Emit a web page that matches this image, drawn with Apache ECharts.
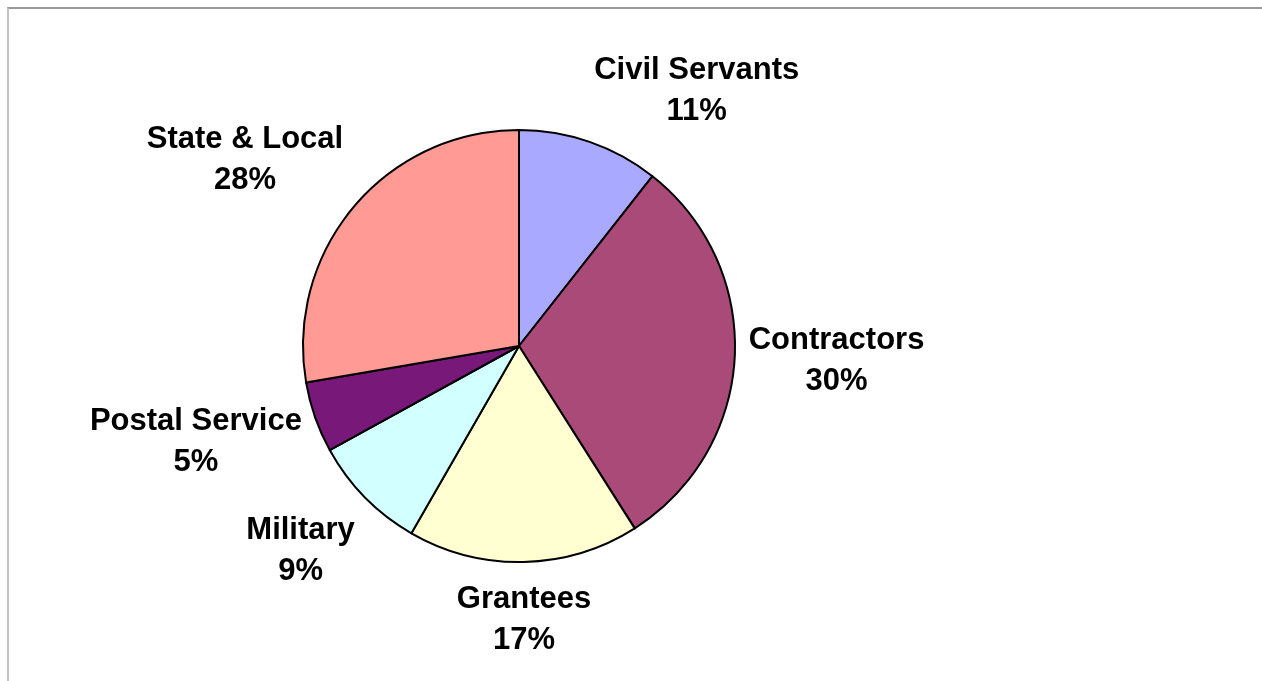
<!DOCTYPE html>
<html>
<head>
<meta charset="utf-8">
<script src="https://cdn.jsdelivr.net/npm/echarts@6/dist/echarts.min.js"></script>
<style>
html,body{margin:0;padding:0;background:#fff;width:1262px;height:681px;overflow:hidden;}
#frame{position:absolute;left:7px;top:7px;width:1255px;height:674px;border-top:2px solid #999;border-left:2px solid #c4c4c4;box-sizing:border-box;}
#chart{position:absolute;left:0;top:0;width:1262px;height:681px;}
</style>
</head>
<body>
<div id="frame"></div>
<div id="chart"></div>
<script>
// Data (clockwise from 12 o'clock)
const categories = ['Civil Servants', 'Contractors', 'Grantees', 'Military', 'Postal Service', 'State & Local'];
const shares = [10.6, 30.4, 17.3, 8.7, 5.3, 27.7];
const sliceColors = ['#A9A9FF', '#A94A78', '#FFFFD2', '#D2FFFF', '#781878', '#FF9A94'];

const CENTER = [519, 346];
const RADIUS = 216;
const LABEL_GAP = 14;
const TEXT_BASELINE_NUDGE = 3;

const total = shares.reduce((a, b) => a + b, 0);
const midAngles = [];
{
  let acc = 0;
  shares.forEach(v => { midAngles.push((acc + v / 2) / total * 2 * Math.PI); acc += v; });
}
const clamp01 = v => Math.max(0, Math.min(1, v));

const chart = echarts.init(document.getElementById('chart'), null, {renderer: 'canvas'});
chart.setOption({
  backgroundColor: 'transparent',
  animation: false,
  series: [{
    type: 'pie',
    center: CENTER,
    radius: RADIUS,
    startAngle: 90,
    clockwise: true,
    avoidLabelOverlap: false,
    data: categories.map((c, i) => ({name: c, value: shares[i], itemStyle: {color: sliceColors[i]}})),
    itemStyle: {borderColor: '#000', borderWidth: 2},
    emphasis: {disabled: true},
    label: {
      show: true,
      position: 'outside',
      formatter: p => p.name + '\n' + Math.round(p.value) + '%',
      fontFamily: '"Liberation Sans", Arial, sans-serif',
      fontWeight: 'bold',
      fontSize: 31,
      lineHeight: 41,
      color: '#000',
      align: 'center'
    },
    labelLine: {show: false, length: 0, length2: 0},
    labelLayout: params => {
      const a = midAngles[params.dataIndex];
      const s = Math.sin(a), c = Math.cos(a);
      const r = RADIUS + LABEL_GAP;
      const ax = CENTER[0] + r * s;
      const ay = CENTER[1] - r * c;
      const w = params.labelRect.width, h = params.labelRect.height;
      const fx = Math.sign(s) * clamp01((Math.abs(s) - 0.05) / 0.25);
      const fy = -Math.sign(c) * clamp01((Math.abs(c) - 0.1) / 0.55);
      return {x: ax + fx * w / 2, y: ay + fy * h / 2 + TEXT_BASELINE_NUDGE, align: 'center', verticalAlign: 'middle'};
    }
  }]
});
</script>
</body>
</html>
